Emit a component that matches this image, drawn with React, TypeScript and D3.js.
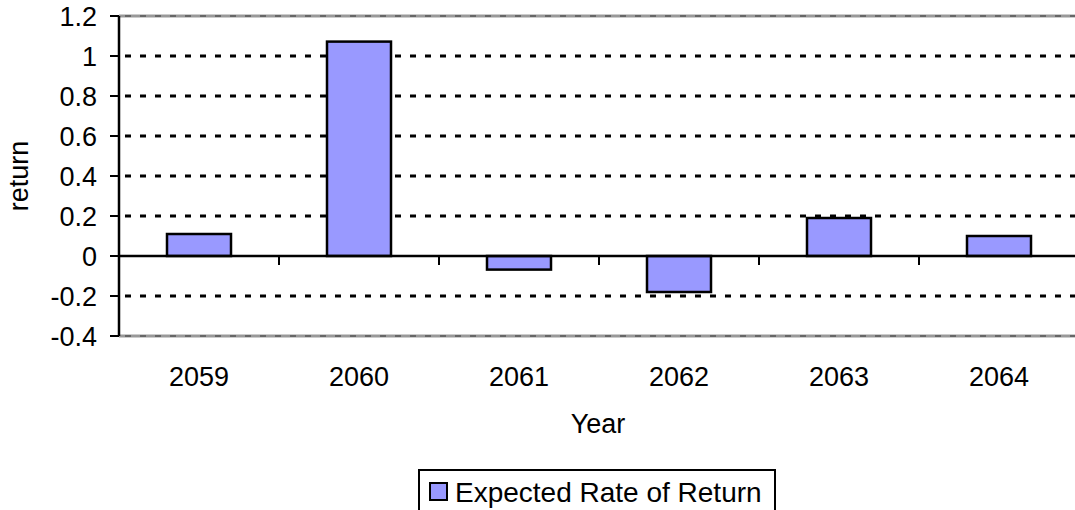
import React from "react";
import * as d3 from "d3";

const years = ["2059", "2060", "2061", "2062", "2063", "2064"];
const returns = [0.11, 1.072, -0.068, -0.18, 0.19, 0.1];
const yTicks = [-0.4, -0.2, 0, 0.2, 0.4, 0.6, 0.8, 1, 1.2];
const seriesName = "Expected Rate of Return";

const W = 1075;
const H = 510;
const M = { left: 119, right: 1079, top: 16, bottom: 336 };
const FONT = "'Liberation Sans', Arial, sans-serif";
const FS = 27;

export default function App() {
  const x = d3.scaleBand<string>().domain(years).range([M.left, M.right]).paddingInner(0).paddingOuter(0);
  const y = d3.scaleLinear().domain([-0.4, 1.2]).range([M.bottom, M.top]);
  const bw = x.bandwidth() * 0.4;
  const y0 = y(0);
  return (
    <svg width={W} height={H} style={{ position: "absolute", left: 0, top: 0, background: "#fff" }}>
      {/* grid lines */}
      {yTicks.map((t) => {
        const isEdge = t === -0.4 || t === 1.2;
        return (
          <g key={t}>
            {isEdge && <line x1={M.left} x2={W} y1={y(t)} y2={y(t)} stroke="#999" strokeWidth={3} />}
            {t !== 0 && (
              <line x1={M.left + 6} x2={W} y1={y(t)} y2={y(t)} stroke={isEdge ? "#555" : "#000"} strokeWidth={isEdge ? 1.5 : 3} strokeDasharray="6,9" />
            )}
          </g>
        );
      })}
      {/* bars */}
      {returns.map((v, i) => {
        const cx = (x(years[i]) as number) + x.bandwidth() / 2;
        const top = Math.min(y(v), y0);
        const h = Math.abs(y(v) - y0);
        return <rect key={i} x={cx - bw / 2} y={top} width={bw} height={h} fill="#9999FF" stroke="#000" strokeWidth={2.5} />;
      })}
      {/* zero axis */}
      <line x1={M.left} x2={W} y1={y0} y2={y0} stroke="#000" strokeWidth={2.5} />
      {years.slice(1).map((yr) => (
        <line key={yr} x1={x(yr) as number} x2={x(yr) as number} y1={y0} y2={y0 + 9} stroke="#000" strokeWidth={2} />
      ))}
      {/* y axis */}
      <line x1={M.left} x2={M.left} y1={M.top} y2={M.bottom} stroke="#000" strokeWidth={2.5} />
      {yTicks.map((t) => (
        <g key={"t" + t}>
          <line x1={M.left - 9} x2={M.left} y1={y(t)} y2={y(t)} stroke="#000" strokeWidth={2} />
          <text x={97} y={y(t)} dy="0.36em" textAnchor="end" fontFamily={FONT} fontSize={FS} fill="#000">
            {String(t)}
          </text>
        </g>
      ))}
      {/* category labels */}
      {years.map((yr) => (
        <text key={"c" + yr} x={(x(yr) as number) + x.bandwidth() / 2} y={376} dy="0.36em" textAnchor="middle" fontFamily={FONT} fontSize={FS}>
          {yr}
        </text>
      ))}
      <text x={598} y={423} dy="0.36em" textAnchor="middle" fontFamily={FONT} fontSize={FS}>
        Year
      </text>
      <text transform={`translate(18,176) rotate(-90)`} dy="0.36em" textAnchor="middle" fontFamily={FONT} fontSize={FS}>
        return
      </text>
      {/* legend */}
      <rect x={419} y={470} width={356} height={44} fill="#fff" stroke="#000" strokeWidth={2} />
      <rect x={430} y={483} width={17} height={17} fill="#9999FF" stroke="#000" strokeWidth={2} />
      <text x={455} y={492} dy="0.36em" fontFamily={FONT} fontSize={28}>
        {seriesName}
      </text>
    </svg>
  );
}
